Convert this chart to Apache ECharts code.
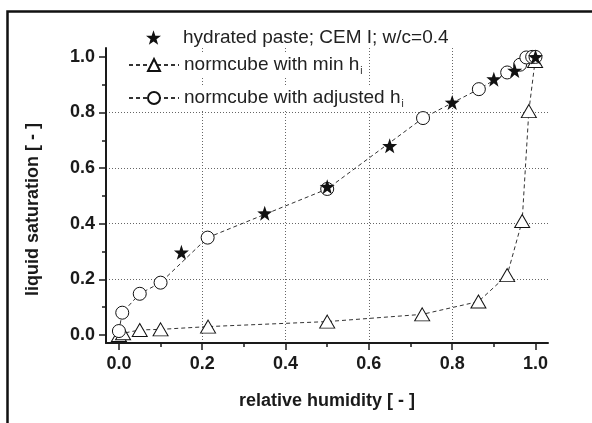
<!DOCTYPE html>
<html>
<head>
<meta charset="utf-8">
<script src="https://cdn.jsdelivr.net/npm/echarts@6/dist/echarts.min.js"></script>
<style>
html,body{margin:0;padding:0;background:#fff;}
#chart{width:592px;height:423px;}
</style>
</head>
<body>
<div id="chart"></div>
<script>
// ---- data ----
var majorTicks = [0, 0.2, 0.4, 0.6, 0.8, 1.0];
var pasteName = 'hydrated paste; CEM I; w/c=0.4';
var minName = 'normcube with min h';
var adjName = 'normcube with adjusted h';
var pasteX = [0.15, 0.35, 0.5, 0.65, 0.8, 0.9, 0.95, 1.0];
var pasteY = [0.297, 0.438, 0.533, 0.68, 0.836, 0.92, 0.951, 1.0];
var minX = [0.0, 0.01, 0.05, 0.1, 0.214, 0.5, 0.728, 0.863, 0.932, 0.968, 0.984, 0.999];
var minY = [0.0, 0.006, 0.018, 0.02, 0.03, 0.048, 0.074, 0.12, 0.215, 0.41, 0.805, 0.985];
var adjX = [0.0, 0.008, 0.05, 0.1, 0.213, 0.5, 0.73, 0.864, 0.932, 0.963, 0.978, 0.992, 1.0];
var adjY = [0.014, 0.08, 0.148, 0.188, 0.35, 0.525, 0.78, 0.884, 0.944, 0.972, 0.998, 1.0, 1.0];

function pairs(xs, ys) { return xs.map(function (x, i) { return [x, ys[i]]; }); }

var starPath = 'path://M0,-10 L2.35,-3.24 L9.51,-3.09 L3.8,1.24 L5.88,8.09 L0,4 L-5.88,8.09 L-3.8,1.24 L-9.51,-3.09 L-2.35,-3.24 Z';
var FONT = '"Liberation Sans", Arial, Helvetica, sans-serif';
var ink = '#1a1a1a';

function makeAxis(isX) {
  return {
    type: 'value',
    min: isX ? -0.031 : -0.029,
    max: isX ? 1.030 : 1.032,
    name: isX ? 'relative humidity [ - ]' : 'liquid saturation [ - ]',
    nameLocation: 'middle',
    nameGap: isX ? 49 : 64,
    nameTextStyle: {
      fontFamily: FONT, fontWeight: 'bold', fontSize: 18, color: ink,
      padding: isX ? 0 : [0, 28, 0, 0]
    },
    axisLine: { show: true, onZero: false, lineStyle: { color: ink, width: 2 } },
    axisTick: { show: true, customValues: majorTicks, length: 7, inside: false, lineStyle: { color: ink, width: 1.5 } },
    minorTick: { show: true, splitNumber: 2, length: 4, lineStyle: { color: ink, width: 1.5 } },
    axisLabel: {
      customValues: majorTicks,
      margin: isX ? 12 : 11,
      fontFamily: FONT, fontWeight: 'bold', fontSize: 18, color: ink,
      formatter: function (v) { return v.toFixed(1); }
    },
    splitLine: { show: true, showMinLine: false, showMaxLine: false, lineStyle: { color: '#666', width: 1, type: [1, 2] } },
    minorSplitLine: { show: false }
  };
}

var chart = echarts.init(document.getElementById('chart'), null, { renderer: 'canvas' });

function legendText(padLeft) {
  return {
    fontFamily: FONT, fontSize: 19, color: '#222', backgroundColor: '#fff',
    padding: [0, 0, 0, padLeft],
    rich: { sub: { fontFamily: FONT, fontSize: 10, color: '#222', padding: [12, 0, 0, 1], backgroundColor: 'transparent' } }
  };
}
function legendAt(name, top, left, w, padLeft) {
  return {
    data: [name], left: left, top: top, orient: 'horizontal',
    padding: 0, itemGap: 0, itemWidth: w, itemHeight: 15,
    selectedMode: false,
    textStyle: legendText(padLeft),
    formatter: function (n) { return n.slice(-2) === ' h' ? n + '{sub|i}' : n; }
  };
}

chart.setOption({
  animation: false,
  backgroundColor: '#fff',
  grid: { left: 106, right: 44, top: 48, bottom: 80, containLabel: false },
  xAxis: makeAxis(true),
  yAxis: makeAxis(false),
  legend: [
    legendAt(pasteName, 28, 146, 15, 17),
    legendAt(minName, 54, 128, 50, 0),
    legendAt(adjName, 87, 128, 50, 0)
  ],
  graphic: [{
    type: 'rect', silent: true, z: 100,
    shape: { x: 7.5, y: 11.5, width: 700, height: 600 },
    style: { fill: 'none', stroke: '#111', lineWidth: 2.5 }
  }],
  series: [
    {
      name: minName, type: 'line', data: pairs(minX, minY),
      symbol: 'triangle', symbolSize: [15, 13],
      itemStyle: { color: '#fff', borderColor: '#111', borderWidth: 1 },
      lineStyle: { color: '#333', width: 1, type: [4, 3] },
      z: 2
    },
    {
      name: adjName, type: 'line', data: pairs(adjX, adjY),
      symbol: 'circle', symbolSize: 13,
      itemStyle: { color: '#fff', borderColor: '#111', borderWidth: 1 },
      lineStyle: { color: '#333', width: 1, type: [4, 3] },
      z: 3
    },
    {
      name: pasteName, type: 'scatter', data: pairs(pasteX, pasteY),
      symbol: starPath, symbolSize: 15,
      itemStyle: { color: '#111', opacity: 1 },
      z: 4
    }
  ]
});
</script>
</body>
</html>
